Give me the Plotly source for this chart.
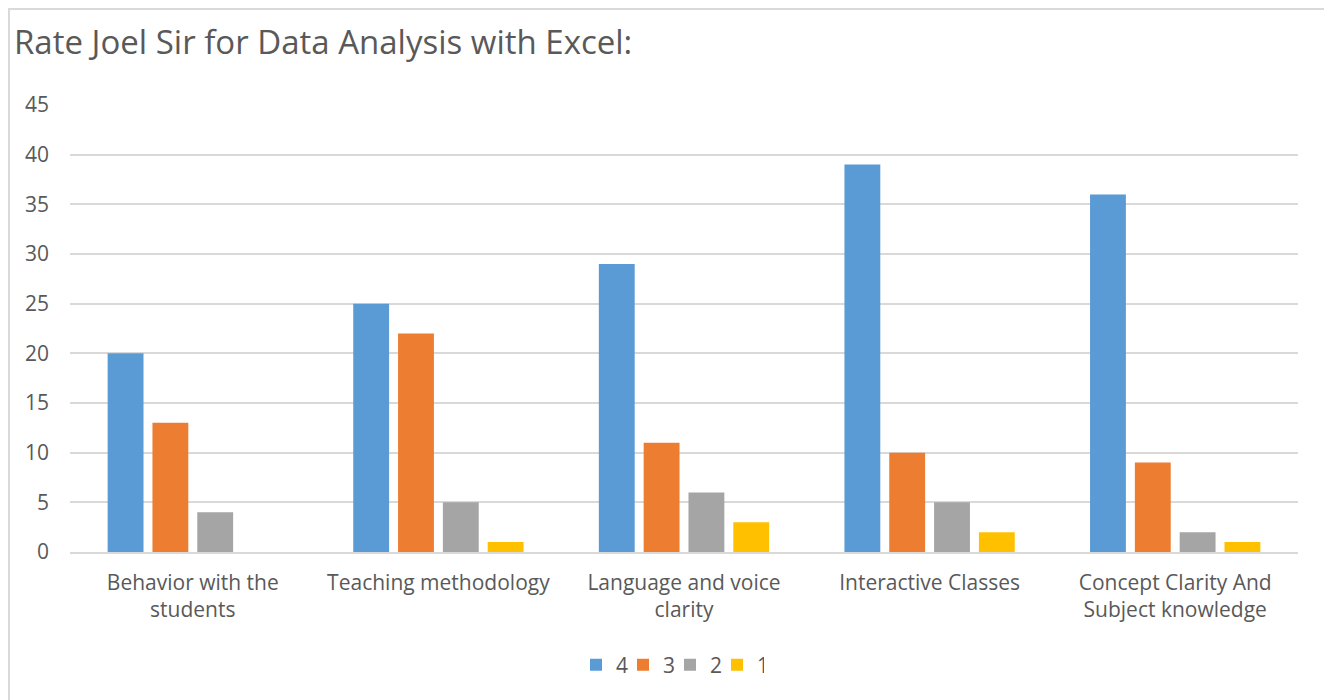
import plotly.graph_objects as go

categories = ["Behavior with the<br>students", "Teaching methodology", "Language and voice<br>clarity",
              "Interactive Classes", "Concept Clarity And<br>Subject knowledge"]
series_names = ["4", "3", "2", "1"]
values_4 = [20, 25, 29, 39, 36]
values_3 = [13, 22, 11, 10, 9]
values_2 = [4, 5, 6, 5, 2]
values_1 = [0, 1, 3, 2, 1]
colors = ["#5B9BD5", "#ED7D31", "#A5A5A5", "#FFC000"]

fig = go.Figure()
for name, vals, col in zip(series_names, [values_4, values_3, values_2, values_1], colors):
    fig.add_trace(go.Bar(x=categories, y=vals, name=name, marker=dict(color=col, line=dict(width=0))))

FONT = "Open Sans"
W, H = 1324, 692
L, R, T, B = 62, 34, 97, 148
pw, ph = W - L - R, H - T - B
fig.update_layout(
    width=W, height=H,
    paper_bgcolor="white", plot_bgcolor="white",
    barmode="group", bargap=0.27, bargroupgap=0.2,
    margin=dict(l=L, r=R, t=T, b=B),
    title=dict(text="Rate Joel Sir for Data Analysis with Excel:", x=6 / W, xref="container", xanchor="left",
               y=1 - 34 / H, yref="container", yanchor="middle",
               font=dict(family=FONT, size=33, color="#595959")),
    font=dict(family=FONT, color="#595959", size=21),
    showlegend=True,
    legend=dict(orientation="h", x=0.5, xanchor="center", xref="container", y=1 - 657 / H, yref="container",
                yanchor="middle", font=dict(size=21, color="#595959"), traceorder="normal",
                itemwidth=30, entrywidth=2, entrywidthmode="pixels"),
    xaxis=dict(showgrid=False, showline=True, linecolor="#D9D9D9", linewidth=1.5, ticks="",
               tickfont=dict(size=21, color="#595959"), ticklabelstandoff=11, fixedrange=True),
    yaxis=dict(range=[0, 45], dtick=5, showgrid=True, gridcolor="#D9D9D9", gridwidth=1.5, zeroline=False,
               showline=False, ticks="", tickfont=dict(size=21, color="#595959"), ticklabelstandoff=20),
)
fig.add_shape(type="rect", xref="x domain", yref="y domain",
              x0=(1 - L) / pw, x1=(1318 - L) / pw, y0=(T + ph - 710) / ph, y1=(T + ph - 1) / ph,
              line=dict(color="#D9D9D9", width=2), layer="below")
fig.write_html("out.html")
